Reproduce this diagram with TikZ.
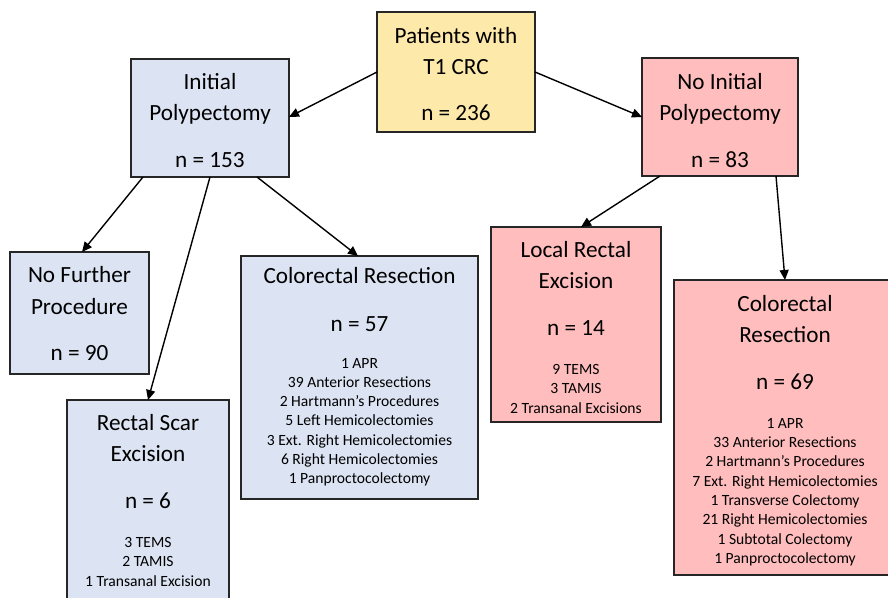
\documentclass[tikz,border=0pt]{standalone}
\usepackage{fontspec}
\setmainfont{Carlito}
\usetikzlibrary{arrows.meta,calc}
\definecolor{boxyellow}{HTML}{FDE9A9}
\definecolor{boxblue}{HTML}{DCE3F2}
\definecolor{boxpink}{HTML}{FFBDBD}
\begin{document}
\begin{tikzpicture}[x=1pt,y=-1pt,
  box/.style={draw=black!85,line width=1.2pt,anchor=north west,inner sep=0pt,outer sep=0pt},
  big/.style={anchor=base,inner sep=0pt,font=\fontsize{23.2}{28}\selectfont},
  small/.style={anchor=base,inner sep=0pt,font=\fontsize{15.6}{19}\selectfont},
  conn/.style={line width=1.4pt,-{Triangle[length=10pt,width=9pt]}}]
\useasboundingbox (0,0) rectangle (888,597);
\clip (0,0) rectangle (888,597);
% boxes
\node[box,fill=boxyellow,minimum width=158pt,minimum height=120pt] (P) at (377,12) {};
\node[box,fill=boxblue,minimum width=158pt,minimum height=118pt] (IP) at (131,59) {};
\node[box,fill=boxpink,minimum width=156pt,minimum height=118pt] (NIP) at (642,58) {};
\node[box,fill=boxblue,minimum width=139pt,minimum height=122pt] (NF) at (10,252) {};
\node[box,fill=boxblue,minimum width=162pt,minimum height=215pt] (RS) at (67,400) {};
\node[box,fill=boxblue,minimum width=237pt,minimum height=243pt] (CL) at (241,256) {};
\node[box,fill=boxpink,minimum width=170pt,minimum height=195pt] (LR) at (491,227) {};
\node[box,fill=boxpink,minimum width=222pt,minimum height=295pt] (CR) at (674,280) {};
% texts
\node[big] (p1) at (456,43) {Patients with};
\node[big] (p2) at (456,74) {T1 CRC};
\node[big] (p3) at (456,120) {n = 236};
\node[big] (ip1) at (210,89) {Initial};
\node[big] (ip2) at (210,120) {Polypectomy};
\node[big] (ip3) at (210,167) {n = 153};
\node[big] (nip1) at (720,89) {No Initial};
\node[big] (nip2) at (720,120) {Polypectomy};
\node[big] (nip3) at (720,167) {n = 83};
\node[big] (nf1) at (79.5,282) {No Further};
\node[big] (nf2) at (79.5,314) {Procedure};
\node[big] (nf3) at (79.5,360) {n = 90};
\node[big] (rs1) at (148,430) {Rectal Scar};
\node[big] (rs2) at (148,461) {Excision};
\node[big] (rs3) at (148,508) {n = 6};
\node[small] (rs4) at (148,547) {3 TEMS};
\node[small] (rs5) at (148,566.5) {2 TAMIS};
\node[small] (rs6) at (148,586) {1 Transanal Excision};
\node[big] (cl1) at (359.5,283.5) {Colorectal Resection};
\node[big] (cl2) at (359.5,331) {n = 57};
\node[small] (cl3) at (359.5,368) {1 APR};
\node[small] (cl4) at (359.5,387.3) {39 Anterior Resections};
\node[small] (cl5) at (359.5,406.6) {2 Hartmann’s Procedures};
\node[small] (cl6) at (359.5,425.9) {5 Left Hemicolectomies};
\node[small] (cl7) at (359.5,445.2) {3 Ext. Right Hemicolectomies};
\node[small] (cl8) at (359.5,464.5) {6 Right Hemicolectomies};
\node[small] (cl9) at (359.5,483.8) {1 Panproctocolectomy};
\node[big] (lr1) at (576,257) {Local Rectal};
\node[big] (lr2) at (576,288) {Excision};
\node[big] (lr3) at (576,335.5) {n = 14};
\node[small] (lr4) at (576,374.3) {9 TEMS};
\node[small] (lr5) at (576,393.6) {3 TAMIS};
\node[small] (lr6) at (576,413) {2 Transanal Excisions};
\node[big] (cr1) at (785,311) {Colorectal};
\node[big] (cr2) at (785,342) {Resection};
\node[big] (cr3) at (785,389) {n = 69};
\node[small] (cr4) at (785,428.3) {1 APR};
\node[small] (cr5) at (785,447.6) {33 Anterior Resections};
\node[small] (cr6) at (785,466.9) {2 Hartmann’s Procedures};
\node[small] (cr7) at (785,486.2) {7 Ext. Right Hemicolectomies};
\node[small] (cr8) at (785,505.5) {1 Transverse Colectomy};
\node[small] (cr9) at (785,524.8) {21 Right Hemicolectomies};
\node[small] (cr10) at (785,544.1) {1 Subtotal Colectomy};
\node[small] (cr11) at (785,563.4) {1 Panproctocolectomy};
% connectors
\draw[conn] ($(P.north west)+(0,60)$) -- ($(IP.north east)+(0,58)$);
\draw[conn] ($(P.north east)+(0,60)$) -- ($(NIP.north west)+(0,59)$);
\draw[conn] ($(IP.south west)+(12,0)$) -- ($(NF.north west)+(72,0)$);
\draw[conn] ($(IP.south west)+(79,0)$) -- ($(RS.north west)+(81,0)$);
\draw[conn] ($(IP.south west)+(126,0)$) -- ($(CL.north west)+(117,0)$);
\draw[conn] ($(NIP.south west)+(18,0)$) -- ($(LR.north west)+(90,0)$);
\draw[conn] ($(NIP.south west)+(134,0)$) -- ($(CR.north west)+(111,0)$);
\end{tikzpicture}
\end{document}
